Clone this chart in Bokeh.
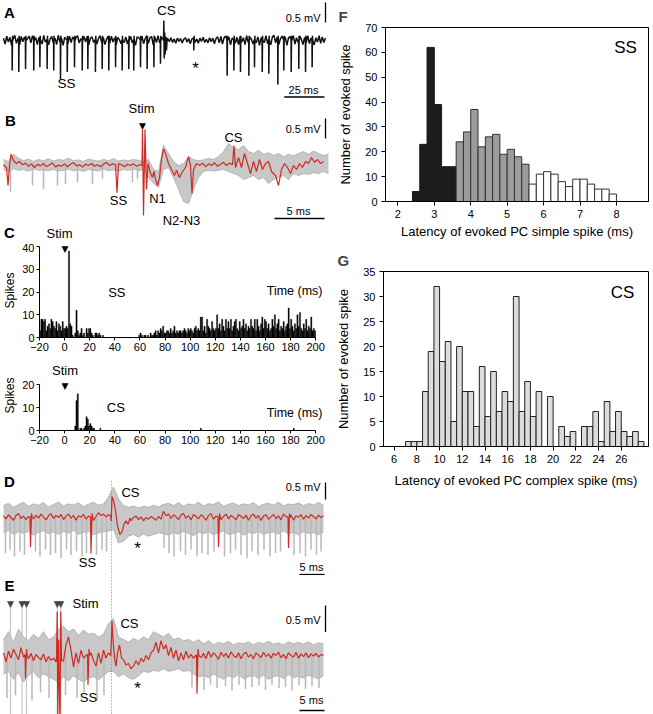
import math
from bokeh.plotting import figure
from bokeh.models import Range1d, Label, FixedTicker
from bokeh.layouts import row, column
from bokeh.embed import file_html
from bokeh.resources import INLINE

FONT = "Liberation Sans"
RED = "#d02a22"
BAND = "#c8c8c8"
EDGE = "#a9a9a9"
SPK = "#b8b8b8"

# ---------------- Panel A (single sweep, 1 ms grid baseline + spikes) ----------------
A_base = [
    0.06, -0.09, 0.11, -0.04, 0.08, -0.12, 0.03, 0.13, -0.07, 0.06,
    -0.11, 0.10, -0.03, 0.09, -0.12, 0.05, 0.11, -0.06, 0.12, -0.05,
    0.07, -0.10, 0.08, 0.02, -0.09, 0.13, -0.04, 0.09, -0.11, 0.04,
    0.10, -0.07, 0.06, -0.10, 0.13, -0.03, 0.06, -0.12, 0.08, 0.03,
    -0.08, 0.11, -0.05, 0.09, -0.10, 0.07, 0.12, -0.06, 0.04, -0.09,
    0.10, -0.04, 0.11, -0.11, 0.06, 0.09, -0.05, 0.10, -0.09, 0.05,
    0.12, -0.06, 0.08, -0.10, 0.03, 0.11, -0.07, 0.11, -0.04, 0.07,
    -0.11, 0.08, 0.02, -0.08, 0.13, -0.05, 0.09, -0.09, 0.06, 0.10,
    -0.06, 0.04, -0.12, 0.09, 0.07, -0.06, 0.11, -0.08, 0.05, 0.12,
    -0.07, 0.07, 0.10, -0.11, 0.09, -0.05, 0.12, -0.06, 0.08, 0.04,
    0.02, -0.06, 0.05, -0.03, 0.07, -0.05, 0.04, -0.07, 0.06, -0.02,
    0.05, -0.06, 0.03, 0.07, -0.04, 0.05, -0.08, 0.04, 0.06, -0.05,
    0.04, -0.07, 0.06, -0.02, 0.08, -0.05, 0.03, -0.06, 0.07, -0.03,
    0.06, -0.08, 0.05, 0.09, -0.06, 0.10, -0.09, 0.07, 0.11, -0.05,
    0.09, -0.11, 0.06, 0.12, -0.07, 0.08, -0.10, 0.11, -0.04, 0.07,
    -0.10, 0.12, -0.05, 0.08, 0.03, -0.09, 0.11, -0.06, 0.09, -0.12,
    0.07, 0.10, -0.05, 0.12, -0.08, 0.05, -0.11, 0.09, 0.13, -0.06,
    0.08, -0.10, 0.04, 0.11, -0.07, 0.09, -0.12, 0.06, 0.10, -0.04,
    0.12, -0.09, 0.07, -0.05, 0.11, 0.03, -0.10, 0.08, -0.06, 0.12,
    -0.08, 0.06, 0.10, -0.11, 0.07, -0.04, 0.12, -0.07, 0.09, -0.05,
    0.06]
A_ss_t = [5.4, 9.5, 13.7, 18.8, 22.6, 27.1, 31.2, 35.4, 39.6, 44.1, 48.9, 52.4, 57.1,
          61.3, 65.4, 69.6, 73.7, 77.8, 80.9, 85.1, 89.2, 93.4, 97.5, 118.2, 138.9,
          143.1, 147.2, 152.4, 155.9, 160.7, 164.8, 170.4, 174.1, 178.7, 183.4, 187.6, 191.7]
A_ss_d = [0.75, 0.79, 0.71, 0.75, 0.67, 0.71, 0.75, 0.96, 0.79, 0.67, 0.75, 0.71, 0.79,
          0.71, 0.75, 0.67, 0.75, 0.71, 0.75, 0.67, 0.71, 0.67, 0.58, 0.25, 0.88,
          0.75, 0.79, 0.88, 0.67, 0.79, 0.83, 1.10, 0.75, 0.79, 0.71, 0.79, 0.67]
A_cs_t = [99.4, 99.6, 99.8, 100.1, 100.4, 100.8, 101.2, 101.7]
A_cs_v = [0.0, 0.5, -0.45, 0.2, -0.35, 0.1, -0.25, 0.05]

# ---------------- Panel B (evoked responses) ----------------
B_red_t = [0.0, 0.3, 0.45, 0.6, 0.75, 1.0, 1.3, 1.6, 1.9, 2.2,
           2.5, 2.8, 3.1, 3.4, 3.7, 4.0, 4.3, 4.6, 4.9, 5.2,
           5.5, 5.8, 6.1, 6.4, 6.7, 7.0, 7.3, 7.6, 7.9, 8.2,
           8.5, 8.8, 9.1, 9.4, 9.7, 10.0, 10.3, 10.6, 10.9, 11.2,
           11.35, 11.5, 11.8, 12.1, 12.4, 12.7, 13.0, 13.3, 13.6, 13.85,
           13.9, 14.0, 14.15, 14.3, 14.45, 14.7, 14.9, 15.05, 15.2, 15.4,
           15.6, 15.8, 16.0, 16.2, 16.5, 16.8, 17.1, 17.3, 17.6, 17.9,
           18.2, 18.5, 18.7, 18.85, 19.0, 19.3, 19.6, 19.9, 20.2, 20.5,
           20.8, 21.1, 21.4, 21.7, 22.0, 22.3, 22.6, 22.9, 23.05, 23.2,
           23.5, 23.8, 24.1, 24.4, 24.7, 25.0, 25.3, 25.6, 25.9, 26.2,
           26.5, 26.8, 27.2, 27.5, 27.8, 28.1, 28.4, 28.7, 29.0, 29.3,
           29.6, 29.9, 30.2, 30.5, 30.8, 31.1, 31.4, 31.7, 32.0]
B_red_v = [0.02, -0.05, -0.5, 0.0, 0.28, 0.12, 0.05, 0.1, 0.02, 0.06,
           -0.02, 0.04, -0.05, 0.03, -0.01, 0.05, -0.03, 0.02, 0.06, -0.04,
           0.01, -0.02, 0.04, -0.03, 0.03, 0.07, -0.01, 0.02, -0.04, 0.03,
           0.0, 0.05, -0.02, 0.02, -0.03, 0.03, 0.08, 0.0, 0.04, 0.02,
           -0.68, 0.05, 0.02, -0.03, 0.03, 0.0, 0.04, -0.02, 0.02, 0.0,
           0.9, -1.25, 0.9, -0.6, 0.05, -0.2, -0.3, -0.15, -0.35, -0.5,
           -0.3, 0.15, 0.42, 0.3, 0.05, -0.1, -0.25, -0.12, -0.3, -0.15,
           -0.05, 0.22, 0.0, -0.7, -0.1, 0.05, 0.0, 0.06, -0.03, 0.04,
           0.0, 0.07, -0.02, 0.03, 0.08, 0.0, 0.06, 0.02, 0.5, -0.05,
           0.2, -0.05, 0.3, 0.05, -0.2, 0.1, -0.15, 0.15, -0.1, 0.05,
           0.1, -0.15, -0.25, -0.5, -0.1, 0.05, -0.05, -0.2, 0.0, -0.1,
           0.05, -0.05, 0.1, 0.05, 0.2, 0.08, 0.15, 0.05, 0.1]
# gray sweeps envelope, 0.5 ms grid from 0 to 32.5 ms
B_up = [0.15, 0.10, 0.28, 0.18, 0.12, 0.16, 0.10, 0.15, 0.12, 0.17,
        0.11, 0.15, 0.13, 0.18, 0.12, 0.14, 0.10, 0.16, 0.13, 0.11,
        0.15, 0.12, 0.17, 0.11, 0.14, 0.12, 0.15, 0.13, 0.10, 0.15,
        -0.10, -0.15, 0.50, 0.30, 0.10, 0.00, 0.05, 0.22, 0.15, 0.12,
        0.14, 0.18, 0.15, 0.22, 0.35, 0.55, 0.45, 0.40, 0.50, 0.35,
        0.30, 0.38, 0.28, 0.32, 0.25, 0.30, 0.22, 0.28, 0.24, 0.30,
        0.35, 0.28, 0.36, 0.30, 0.25, 0.28]
B_lo = [-0.10, -0.15, -0.08, -0.12, -0.10, -0.14, -0.09, -0.12, -0.11, -0.13,
        -0.10, -0.14, -0.12, -0.09, -0.13, -0.11, -0.15, -0.10, -0.12, -0.14,
        -0.09, -0.13, -0.11, -0.14, -0.10, -0.12, -0.09, -0.13, -0.10, -0.30,
        -0.45, -0.55, -0.10, -0.05, -0.30, -0.60, -0.90, -0.95, -0.60, -0.30,
        -0.15, -0.12, -0.14, -0.12, -0.10, -0.15, -0.20, -0.25, -0.35, -0.30,
        -0.25, -0.35, -0.30, -0.45, -0.35, -0.30, -0.25, -0.35, -0.20, -0.25,
        -0.20, -0.22, -0.18, -0.20, -0.15, -0.20]
B_spk_t = [0.7, 2.9, 4.0, 5.4, 6.2, 7.4, 8.9, 9.9, 12.9, 13.4]
B_spk_d = [0.67, 0.5, 0.58, 0.5, 0.46, 0.42, 0.46, 0.33, 0.42, 0.33]

# ---------------- Panel C (PSTHs, 1 ms bins from -20 ms) ----------------
PSTH_START = -20
ss_counts = [
    3, 8, 8, 7, 8, 3, 5, 6, 4, 8,
    7, 5, 4, 7, 3, 6, 5, 3, 7, 4,
    4, 5, 4, 38, 6, 5, 1, 0, 2, 12,
    3, 1, 2, 4, 1, 2, 0, 4, 2, 4,
    4, 2, 1, 0, 2, 2, 1, 2, 1, 0,
    1, 0, 0, 0, 0, 0, 0, 0, 0, 0,
    0, 0, 0, 0, 0, 0, 0, 0, 0, 0,
    0, 0, 0, 0, 0, 0, 0, 0, 0, 1,
    2, 1, 0, 1, 1, 0, 1, 0, 2, 1,
    1, 2, 3, 1, 3, 2, 4, 3, 5, 2,
    2, 3, 3, 2, 4, 2, 3, 5, 2, 3,
    2, 3, 3, 2, 3, 4, 3, 2, 4, 3,
    4, 3, 2, 4, 5, 3, 4, 3, 9, 9,
    3, 5, 2, 8, 5, 4, 3, 7, 4, 3,
    4, 10, 4, 6, 3, 8, 5, 3, 8, 4,
    7, 4, 8, 3, 5, 7, 8, 4, 3, 7,
    4, 5, 8, 4, 6, 3, 5, 4, 8, 5,
    4, 8, 3, 8, 5, 3, 6, 9, 4, 8,
    7, 4, 6, 3, 4, 8, 5, 10, 4, 6,
    8, 3, 5, 4, 7, 3, 5, 6, 13, 4,
    8, 5, 3, 6, 4, 10, 5, 11, 4, 3,
    6, 4, 8, 3, 5, 4, 9, 3, 4, 3]
cs_bin = [8, 9, 10, 12, 13, 15, 16, 17, 18, 19, 20, 21, 22, 23, 28, 108, 182]
cs_counts = [2, 13, 16, 1, 1, 1, 2, 6, 5, 2, 3, 2, 1, 1, 1, 1, 1]
C_xticks = [-20, 0, 20, 40, 60, 80, 100, 120, 140, 160, 180, 200]

# ---------------- Panel D (CS-aligned sweeps) ----------------
CS_T = 21.6
D_red = [
    0.05, -0.04, 0.08, 0.00, -0.08, 0.06, 0.12, -0.03, 0.04, -0.06,
    0.03, 0.14, -0.04, 0.07, -0.02, 0.10, 0.01, -0.07, 0.05, 0.11,
    -0.03, 0.06, 0.00, 0.09, -0.06, 0.04, 0.10, -0.02, 0.06, -0.08,
    0.05, 0.01, 0.09, -0.05, 0.04, 0.11, -0.09, 0.03, 0.14, 0.06,
    0.10, 0.02, 0.08, 0.05, 0.00, -0.20, -0.40, -0.15, -0.10, -0.12,
    -0.05, -0.10, 0.00, 0.04, -0.06, 0.02, -0.10, 0.00, -0.05, 0.03,
    -0.02, -0.08, 0.03, -0.05, 0.18, 0.05, 0.10, -0.03, 0.08, 0.02,
    -0.06, 0.07, 0.12, -0.02, 0.05, -0.07, 0.09, 0.03, -0.04, 0.08,
    0.02, -0.08, 0.06, 0.11, -0.05, 0.04, 0.07, -0.06, 0.03, 0.10,
    -0.04, 0.06, 0.01, -0.07, 0.09, 0.04, -0.03, 0.07, -0.08, 0.05,
    0.10, -0.02, 0.06, -0.09, 0.04, 0.08, -0.05, 0.02, 0.09, -0.03,
    0.05, -0.07, 0.10, 0.02, -0.04, 0.07, -0.08, 0.05, 0.01, 0.08,
    -0.05, 0.06, -0.02, 0.09, 0.03, -0.04, 0.07, 0.00, 0.05]
D_cs_t = [21.4, 21.55, 21.7, 22.0, 22.4, 22.8, 23.3, 23.7, 24.1, 24.5, 24.9, 25.3]
D_cs_v = [0.05, -0.1, 0.62, 0.5, 0.2, -0.25, -0.5, -0.42, -0.2, -0.1, -0.2, -0.02]
D_ss_t = [5.4, 17.5, 43.0, 57.0]
D_ss_d = [0.87, 1.06, 0.87, 0.90]
D_up = [0.35, 0.42, 0.30, 0.38, 0.45, 0.33, 0.40, 0.36, 0.44, 0.31,
        0.38, 0.46, 0.34, 0.40, 0.37, 0.43, 0.32, 0.39, 0.45, 0.36,
        0.40, 0.60, 0.90, 0.55, 0.35, 0.30, 0.34, 0.28, 0.33, 0.30,
        0.36, 0.31, 0.38, 0.42, 0.35, 0.44, 0.33, 0.40, 0.37, 0.45,
        0.34, 0.41, 0.38, 0.46, 0.33, 0.39, 0.43, 0.35, 0.40, 0.37,
        0.44, 0.32, 0.39, 0.42, 0.36, 0.45, 0.34, 0.40, 0.38, 0.43,
        0.35, 0.41, 0.37, 0.44, 0.36]
D_lo = [-0.45, -0.38, -0.50, -0.42, -0.47, -0.40, -0.52, -0.44, -0.39, -0.48,
        -0.43, -0.50, -0.41, -0.46, -0.38, -0.49, -0.44, -0.40, -0.51, -0.45,
        -0.42, -0.40, -0.35, -0.75, -0.70, -0.55, -0.50, -0.58, -0.48, -0.55,
        -0.50, -0.45, -0.48, -0.52, -0.44, -0.49, -0.41, -0.47, -0.53, -0.43,
        -0.48, -0.42, -0.51, -0.45, -0.40, -0.50, -0.46, -0.42, -0.52, -0.44,
        -0.47, -0.41, -0.50, -0.45, -0.43, -0.49, -0.40, -0.48, -0.44, -0.51,
        -0.42, -0.47, -0.45, -0.50, -0.43]
D_spk_t = [0.4, 1.3, 2.2, 3.3, 4.2, 6.4, 7.3, 8.4, 9.4, 10.4, 11.5, 12.6, 13.5, 14.6,
           15.7, 16.6, 18.6, 19.7, 20.6, 32.1, 33.1, 34.1, 35.4, 36.4, 37.5, 38.7,
           39.7, 40.9, 42.1, 44.2, 45.4, 46.4, 47.5, 48.7, 49.7, 50.9, 52.1, 53.3,
           54.4, 55.4, 58.1, 59.3, 60.4, 61.5, 62.6, 63.5]
D_spk_d = [1.05, 0.95, 1.15, 1.0, 1.1, 1.0, 1.15, 0.95, 1.1, 1.05, 1.2, 0.95, 1.1, 1.0,
           1.15, 1.05, 1.1, 0.95, 1.0, 0.9, 1.05, 1.15, 1.0, 1.1, 0.95, 1.15,
           1.05, 1.1, 1.0, 1.15, 1.05, 0.95, 1.1, 1.2, 1.0, 1.1, 0.95, 1.15,
           1.05, 1.0, 1.1, 1.05, 1.15, 0.95, 1.1, 1.0]

# ---------------- Panel E (stim + CS-aligned sweeps) ----------------
E_red = [
    0.05, -0.12, 0.08, -0.05, 0.12, 0.02, -0.08, 0.15, -0.03, 0.00,
    -0.06, 0.04, -0.10, 0.02, -0.04, -0.08, 0.03, -0.12, -0.02, -0.09,
    -0.05, -0.12, 0.00, 0.00, -0.10, 0.20, 0.35, 0.10, -0.22, 0.05,
    -0.15, 0.10, -0.05, 0.00, 0.00, 0.05, -0.10, -0.20, 0.05, -0.15,
    0.10, -0.05, 0.05, 0.00, 0.00, 0.00, 0.00, -0.12, -0.08, -0.18,
    -0.15, -0.25, -0.20, -0.10, -0.18, -0.05, -0.12, 0.00, -0.08, 0.05,
    0.10, 0.25, 0.05, 0.28, 0.12, 0.20, 0.00, 0.15, -0.05, 0.10,
    -0.10, 0.05, -0.08, 0.08, -0.05, 0.02, -0.05, 0.00, 0.06, -0.04,
    0.04, -0.06, 0.08, -0.03, 0.05, 0.00, -0.07, 0.06, -0.02, 0.04,
    -0.05, 0.07, 0.00, -0.04, 0.05, -0.06, 0.03, 0.06, -0.03, 0.02,
    -0.06, 0.05, 0.01, -0.04, 0.06, -0.02, 0.03, -0.05, 0.04, 0.00,
    0.06, -0.04, 0.02, -0.06, 0.05, 0.00, -0.03, 0.06, -0.05, 0.03,
    -0.02, 0.05, -0.04, 0.03, -0.01, 0.04, -0.03, 0.02, 0.00]
E_art_t = [10.6, 10.75, 10.85, 11.0, 11.3, 11.45, 11.6]
E_art_v = [-0.05, 0.83, -1.3, 0.3, -1.3, 0.83, -0.1]
E_cs_t = [21.45, 21.6, 21.7, 21.9, 22.2, 22.5, 22.8, 23.2, 23.6]
E_cs_v = [0.0, 0.35, 0.65, 0.3, -0.05, -0.2, 0.05, 0.2, -0.05]
E_ss_t = [4.4, 16.9, 38.7]
E_ss_d = [0.43, 0.55, 0.72]
E_up = [0.30, 0.45, 0.25, 0.50, 0.35, 0.28, 0.40, 0.32, 0.45, 0.30,
        0.35, 0.50, 0.55, 0.45, 0.50, 0.38, 0.48, 0.40, 0.42, 0.35,
        0.40, 0.60, 0.70, 0.35, 0.30, 0.25, 0.32, 0.28, 0.35, 0.30,
        0.45, 0.40, 0.35, 0.42, 0.30, 0.33, 0.28, 0.30, 0.25, 0.30,
        0.22, 0.28, 0.20, 0.25, 0.22, 0.27, 0.20, 0.24, 0.22, 0.26,
        0.20, 0.25, 0.22, 0.27, 0.21, 0.24, 0.20, 0.26, 0.22, 0.25,
        0.21, 0.26, 0.20, 0.24, 0.22]
E_lo = [-0.35, -0.30, -0.45, -0.32, -0.50, -0.38, -0.30, -0.42, -0.35, -0.40,
        -0.45, -0.50, -0.40, -0.48, -0.38, -0.45, -0.50, -0.42, -0.40, -0.46,
        -0.38, -0.30, -0.30, -0.40, -0.35, -0.42, -0.45, -0.38, -0.30, -0.32,
        -0.28, -0.30, -0.25, -0.30, -0.28, -0.25, -0.30, -0.28, -0.35, -0.40,
        -0.38, -0.42, -0.35, -0.40, -0.45, -0.38, -0.42, -0.36, -0.44, -0.40,
        -0.38, -0.43, -0.37, -0.45, -0.40, -0.38, -0.44, -0.36, -0.42, -0.39,
        -0.43, -0.37, -0.41, -0.44, -0.38]
E_spk_t = [0.7, 2.4, 5.7, 7.4, 9.1, 12.4, 14.7, 16.1, 18.7, 20.1, 37.7, 40.1, 41.4,
           42.7, 44.4, 45.7, 47.1, 48.4, 49.7, 51.1, 52.4, 53.7, 55.1, 56.4, 57.7,
           59.1, 60.4, 61.7, 63.1]
E_spk_d = [0.8, 0.75, 0.85, 0.7, 0.8, 0.75, 0.8, 0.7, 0.85, 0.75, 0.6, 0.65, 0.55,
           0.62, 0.58, 0.66, 0.55, 0.63, 0.6, 0.57, 0.65, 0.55, 0.62, 0.6, 0.66,
           0.56, 0.63, 0.58, 0.62]
E_stim_t = [1.4, 3.7, 4.6, 10.75, 11.45]

# ---------------- Panel F (SS latency histogram, 0.2 ms bins) ----------------
F_bin = 0.2
F_black_start, F_black = 2.4, [4, 23, 62, 39, 14, 14]
F_gray_start, F_gray = 3.6, [24, 28, 37, 22, 26, 27, 19, 21, 18, 15]
F_white_start, F_white = 5.6, [7, 11, 12, 11, 8, 6, 9, 9, 7, 5, 5, 3]
F_xticks = [2, 3, 4, 5, 6, 7, 8]
F_yticks = [0, 10, 20, 30, 40, 50, 60, 70]

# ---------------- Panel G (CS latency histogram, 0.5 ms bins) ----------------
G_bin = 0.5
G_start = 7.0
G_counts = [1, 1, 1, 11, 19, 32, 17, 21, 5, 20, 11, 11, 4, 16, 6, 15, 7, 11, 9, 30, 7,
            13, 6, 11, 0, 10, 0, 4, 2, 3, 0, 4, 4, 7, 1, 9, 3, 7, 3, 2, 3, 1]
G_xticks = [6, 8, 10, 12, 14, 16, 18, 20, 22, 24, 26]
G_yticks = [0, 5, 10, 15, 20, 25, 30, 35]


# ================= helpers =================
def mkfig(w, h, xr, yr, borders=(0, 0, 0, 0), axes=False, title=None):
    bl, br, bt, bb = borders
    kw = {} if axes else dict(x_axis_location=None, y_axis_location=None)
    p = figure(width=w, height=h, x_range=Range1d(*xr), y_range=Range1d(*yr),
               output_backend="svg", toolbar_location=None, title=title,
               min_border_left=bl, min_border_right=br,
               min_border_top=bt, min_border_bottom=bb, **kw)
    try:
        p.frame_align = False
    except Exception:
        pass
    p.grid.visible = False
    p.outline_line_color = None
    p.background_fill_color = "white"
    p.border_fill_color = "white"
    return p


def trace_fig(top, h, x0px, pxms, y0px, pxmv):
    xr = (-x0px / pxms, (330 - x0px) / pxms)
    yr = ((y0px - top - h) / pxmv, (y0px - top) / pxmv)
    p = mkfig(330, h, xr, yr)
    return p, (0, top, 330, top + h) + xr + yr


def to_data(g, px, py):
    fx0, fy0, fx1, fy1, x0, x1, y0, y1 = g
    return (x0 + (px - fx0) / (fx1 - fx0) * (x1 - x0),
            y1 - (py - fy0) / (fy1 - fy0) * (y1 - y0))


def txt(p, g, px, py, text, size=13, align="center", bold=False, angle=0.0,
        font=FONT, color="black"):
    x, y = to_data(g, px, py)
    p.add_layout(Label(x=x, y=y, text=text, text_font=font,
                       text_font_size=f"{size}px", text_align=align,
                       text_baseline="middle", angle=angle, text_color=color,
                       text_font_style="bold" if bold else "normal"))


def scalebars(p, g, hx1, hy, ms, vx, vy0, mv):
    x1, y = to_data(g, hx1, hy)
    p.line([x1 - ms, x1], [y, y], line_color="black", line_width=1.3)
    x, yt = to_data(g, vx, vy0)
    p.line([x, x], [yt, yt - mv], line_color="black", line_width=1.3)


def build(t0, dt, base, events):
    pts = [(t0 + i * dt, v) for i, v in enumerate(base)]
    for ev in events:
        a, b = ev[0][0], ev[-1][0]
        pts = [q for q in pts if not (a <= q[0] <= b)]
        pts.extend(ev)
    pts.sort()
    return [q[0] for q in pts], [q[1] for q in pts]


def spike(t, d):
    return [(t - 0.1, 0.02), (t, -d), (t + 0.2, 0.12), (t + 0.35, 0.0)]


def sweeps(p, t, lo, up, spk_t, spk_d):
    p.varea(x=t, y1=lo, y2=up, fill_color=BAND)
    p.line(t, up, line_color=EDGE, line_width=0.8)
    p.line(t, lo, line_color=EDGE, line_width=0.8)
    p.segment(x0=spk_t, y0=[0] * len(spk_t), x1=spk_t, y1=[-d for d in spk_d],
              line_color=SPK, line_width=1.5)


def style_axes(p, xt, yt, tick=3, standoff=3, size=11):
    p.xaxis.ticker = FixedTicker(ticks=xt)
    p.yaxis.ticker = FixedTicker(ticks=yt)
    for ax in list(p.xaxis) + list(p.yaxis):
        ax.major_tick_out = tick
        ax.major_tick_in = 0
        ax.minor_tick_out = 0
        ax.minor_tick_in = 0
        ax.major_label_standoff = standoff
        ax.major_label_text_font = FONT
        ax.major_label_text_font_size = f"{size}px"
        ax.major_label_text_color = "black"
        ax.axis_line_color = "black"
        ax.major_tick_line_color = "black"
        ax.axis_label_text_font = FONT
        ax.axis_label_text_font_style = "normal"
        ax.axis_label_text_color = "black"


def grid_t(t0, dt, n):
    return [t0 + i * dt for i in range(n)]


# ================= Panel A =================
pA, gA = trace_fig(0, 100, 3, 1.61, 40, 40)
evA = [spike(t, d) for t, d in zip(A_ss_t, A_ss_d)] + [list(zip(A_cs_t, A_cs_v))]
tA, vA = build(0, 1.0, A_base, evA)
pA.line(tA, vA, line_color="#111111", line_width=1.5)
scalebars(pA, gA, 324, 96.5, 25, 325, 2, 0.5)
txt(pA, gA, 9, 12, "A", size=15, bold=True)
txt(pA, gA, 166, 10, "CS", size=13.5)
txt(pA, gA, 66, 83, "SS", size=13.5)
txt(pA, gA, 195, 68, "*", size=17)
txt(pA, gA, 320, 17, "0.5 mV", size=11, align="right")
txt(pA, gA, 303, 89, "25 ms", size=11)

# ================= Panel B (also hosts the "C" heading) =================
B_TOP, B_H = 100, 143
pB, gB = trace_fig(B_TOP, B_H, 3, 10.0, 165, 40)
sweeps(pB, grid_t(0, 0.5, len(B_up)), B_lo, B_up, B_spk_t, B_spk_d)
pB.line(B_red_t, B_red_v, line_color=RED, line_width=1.2)
scalebars(pB, gB, 324, 218, 5, 325, 118, 0.5)
txt(pB, gB, 10, 120, "B", size=15, bold=True)
txt(pB, gB, 141, 108, "Stim", size=13)
txt(pB, gB, 142, 125, "\u25BC", size=9, font="DejaVu Sans")
txt(pB, gB, 233, 137, "CS", size=13)
txt(pB, gB, 118, 200, "SS", size=13)
txt(pB, gB, 157, 198, "N1", size=13)
txt(pB, gB, 181, 220, "N2-N3", size=13)
txt(pB, gB, 320, 128, "0.5 mV", size=11, align="right")
txt(pB, gB, 298, 210, "5 ms", size=11)
txt(pB, gB, 9, 232, "C", size=15, bold=True)
txt(pB, gB, 59, 233, "Stim", size=13)

# ================= Panel C (two PSTHs) =================
C1_TOP = B_TOP + B_H
C_xend = 200 + 8 / (282 / 220)
C1_ytop = 40 + (246 - C1_TOP) / (91 / 40)
pC1 = mkfig(330, 360 - C1_TOP, (-20, C_xend), (0, C1_ytop), borders=(33, 7, 0, 23),
            axes=True)
gC1 = (33, C1_TOP, 323, 337, -20, C_xend, 0, C1_ytop)
style_axes(pC1, C_xticks, [0, 10, 20, 30, 40], standoff=2)
pC1.xaxis.bounds = (-20, 200)
pC1.yaxis.bounds = (0, 40)
pC1.yaxis.axis_label = "Spikes"
pC1.yaxis.axis_label_text_font_size = "12px"
pC1.yaxis.axis_label_standoff = 2
ss_x = [PSTH_START + i + 0.5 for i in range(len(ss_counts))]
pC1.vbar(x=ss_x, top=ss_counts, width=1.0, fill_color="black", line_color="black",
         line_width=0.3)
txt(pC1, gC1, 59, 248, "\u25BC", size=9, font="DejaVu Sans")
txt(pC1, gC1, 112, 292, "SS", size=13)
txt(pC1, gC1, 322, 290, "Time (ms)", size=12.5, align="right")

C2_ytop = 20 + 24 / (46 / 20)
pC2 = mkfig(330, 95, (-20, C_xend), (0, C2_ytop), borders=(33, 7, 0, 25), axes=True)
gC2 = (33, 360, 323, 430, -20, C_xend, 0, C2_ytop)
style_axes(pC2, C_xticks, [0, 10, 20], standoff=2)
pC2.xaxis.bounds = (-20, 200)
pC2.yaxis.bounds = (0, 20)
pC2.yaxis.axis_label = "Spikes"
pC2.yaxis.axis_label_text_font_size = "12px"
pC2.yaxis.axis_label_standoff = 2
pC2.vbar(x=[b + 0.5 for b in cs_bin], top=cs_counts, width=1.0, fill_color="black",
         line_color="black", line_width=0.3)
txt(pC2, gC2, 59, 370, "Stim", size=13)
txt(pC2, gC2, 59, 385, "\u25BC", size=9, font="DejaVu Sans")
txt(pC2, gC2, 111, 407, "CS", size=13)
txt(pC2, gC2, 322, 412, "Time (ms)", size=12.5, align="right")

# ================= Panel D =================
pD, gD = trace_fig(455, 120, 3, 5.0, 517, 34)
sweeps(pD, grid_t(0, 1.0, len(D_up)), D_lo, D_up, D_spk_t, D_spk_d)
evD = [spike(t, d) for t, d in zip(D_ss_t, D_ss_d)] + [list(zip(D_cs_t, D_cs_v))]
tD, vD = build(0, 0.5, D_red, evD)
_, yDtop = to_data(gD, 0, 481)
pD.line([CS_T, CS_T], [yDtop, -3], line_color="#808080", line_width=1, line_dash="1 2")
pD.line(tD, vD, line_color=RED, line_width=1.2)
scalebars(pD, gD, 324, 574, 5, 325, 482, 0.5)
txt(pD, gD, 9, 481, "D", size=15, bold=True)
txt(pD, gD, 130, 492, "CS", size=13)
txt(pD, gD, 87, 562, "SS", size=13)
txt(pD, gD, 137, 548, "*", size=17)
txt(pD, gD, 320, 486, "0.5 mV", size=11, align="right")
txt(pD, gD, 311, 566, "5 ms", size=11)

# ================= Panel E =================
pE, gE = trace_fig(575, 139, 3, 5.0, 655, 53)
pE.segment(x0=E_stim_t, y0=[1.0] * len(E_stim_t), x1=E_stim_t, y1=[-1.3] * len(E_stim_t),
           line_color="#c8c8c8", line_width=1.2)
sweeps(pE, grid_t(0, 1.0, len(E_up)), E_lo, E_up, E_spk_t, E_spk_d)
evE = [spike(t, d) for t, d in zip(E_ss_t, E_ss_d)] + [list(zip(E_art_t, E_art_v)),
                                                       list(zip(E_cs_t, E_cs_v))]
tE, vE = build(0, 0.5, E_red, evE)
pE.line([CS_T, CS_T], [3, -3], line_color="#808080", line_width=1, line_dash="1 2")
pE.line(tE, vE, line_color=RED, line_width=1.2)
scalebars(pE, gE, 324, 710, 5, 325, 605, 0.5)
txt(pE, gE, 9, 585, "E", size=15, bold=True)
yArrow = to_data(gE, 0, 603)[1]
for t in E_stim_t:
    pE.add_layout(Label(x=t, y=yArrow, text="\u25BC", text_font="DejaVu Sans",
                        text_font_size="9px", text_align="center",
                        text_baseline="middle"))
txt(pE, gE, 72, 603, "Stim", size=13, align="left")
txt(pE, gE, 129, 623, "CS", size=13)
txt(pE, gE, 88, 697, "SS", size=13)
txt(pE, gE, 137, 688, "*", size=17)
txt(pE, gE, 320, 619, "0.5 mV", size=11, align="right")
txt(pE, gE, 311, 699, "5 ms", size=11)


# ================= Panel F =================
def letter_title(p, text, offset):
    p.title.text = text
    p.title.align = "left"
    p.title.offset = offset
    p.title.standoff = 6
    p.title.text_font = FONT
    p.title.text_font_size = "15px"
    p.title.text_font_style = "bold"


pF = mkfig(323, 245, (1.66, 8.88), (0, 70), borders=(55, 5, 27, 44), axes=True, title="F")
gF = (385, 27, 648, 201, 1.66, 8.88, 0, 70)
letter_title(pF, "F", -47)
pF.outline_line_color = "black"
style_axes(pF, F_xticks, F_yticks, tick=4, standoff=4)
pF.yaxis.axis_label = "Number of evoked spike"
pF.yaxis.axis_label_text_font_size = "13px"
pF.yaxis.axis_label_standoff = 9
pF.xaxis.axis_label = "Latency of evoked PC simple spike (ms)"
pF.xaxis.axis_label_text_font_size = "13px"
pF.xaxis.axis_label_standoff = 3
for start, vals, fc, lc in ((F_black_start, F_black, "#1c1c1c", "#1c1c1c"),
                            (F_gray_start, F_gray, "#9c9c9c", "#333333"),
                            (F_white_start, F_white, "white", "#333333")):
    xs = [start + F_bin * (i + 0.5) for i in range(len(vals))]
    pF.vbar(x=xs, top=vals, width=F_bin, fill_color=fc, line_color=lc, line_width=1)
txt(pF, gF, 625, 47, "SS", size=17)

# ================= Panel G =================
pG = mkfig(323, 260, (5.06, 28.4), (0, 35), borders=(53, 5, 26, 59), axes=True, title="G")
gG = (383, 271, 648, 446, 5.06, 28.4, 0, 35)
letter_title(pG, "G", -46)
pG.outline_line_color = "black"
style_axes(pG, G_xticks, G_yticks, tick=4, standoff=4)
pG.yaxis.axis_label = "Number of evoked spike"
pG.yaxis.axis_label_text_font_size = "13px"
pG.yaxis.axis_label_standoff = 9
pG.xaxis.axis_label = "Latency of evoked PC complex spike (ms)"
pG.xaxis.axis_label_text_font_size = "13px"
pG.xaxis.axis_label_standoff = 7
xsG = [G_start + G_bin * (i + 0.5) for i in range(len(G_counts))]
pG.vbar(x=xsG, top=G_counts, width=G_bin, fill_color="#dcdcdc", line_color="#222222",
        line_width=1)
txt(pG, gG, 622, 292, "CS", size=17)

layout = row(column(pA, pB, pC1, pC2, pD, pE), column(pF, pG))
open("out.html", "w").write(file_html(layout, INLINE))
